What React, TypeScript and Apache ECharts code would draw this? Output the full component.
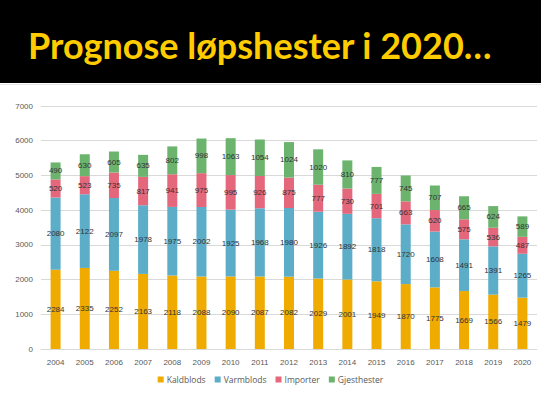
import React, { useEffect, useRef } from "react";
import * as echarts from "echarts";

const years = ["2004","2005","2006","2007","2008","2009","2010","2011","2012","2013","2014","2015","2016","2017","2018","2019","2020"];
const kaldblods = [2284, 2335, 2252, 2163, 2118, 2088, 2090, 2087, 2082, 2029, 2001, 1949, 1870, 1775, 1669, 1566, 1479];
const varmblods = [2080, 2122, 2097, 1978, 1975, 2002, 1925, 1968, 1980, 1926, 1892, 1818, 1720, 1608, 1491, 1391, 1265];
const importer = [520, 523, 735, 817, 941, 975, 995, 926, 875, 777, 730, 701, 663, 620, 575, 536, 487];
const gjesthester = [490, 630, 605, 635, 802, 998, 1063, 1054, 1024, 1020, 810, 777, 745, 707, 665, 624, 589];
const seriesNames = ["Kaldblods", "Varmblods", "Importer", "Gjesthester"];
const colors = ["#F0AB00", "#5BADC8", "#E5677C", "#6CB46E"];

export default function App() {
  const ref = useRef<HTMLDivElement>(null);
  useEffect(() => {
    if (!ref.current) return;
    const chart = echarts.init(ref.current, undefined, { renderer: "svg" });
    const data = [kaldblods, varmblods, importer, gjesthester];
    chart.setOption({
      animation: false,
      backgroundColor: "#ffffff",
      graphic: [
        { type: "rect", left: 0, top: 0, shape: { width: 541, height: 83 }, style: { fill: "#000000" }, z: -1 },
        { type: "rect", left: 0, top: 84, shape: { width: 541, height: 1 }, style: { fill: "#e6e6e6" }, z: -1 },
      ],
      title: {
        text: "Prognose løpshester i 2020…",
        left: 23,
        top: 22,
        textStyle: { color: "#FFCC00", fontFamily: "Lato", fontWeight: "bold", fontSize: 36 },
      },
      legend: {
        data: seriesNames,
        bottom: 8,
        left: "center",
        itemWidth: 6,
        itemHeight: 6,
        itemGap: 9,
        icon: "rect",
        textStyle: { color: "#595959", fontSize: 8.5, fontFamily: "Open Sans", padding: [0, 0, 0, -2] },
      },
      grid: { left: 41, right: 4, top: 106, bottom: 48 },
      xAxis: {
        type: "category",
        data: years,
        axisLine: { lineStyle: { color: "#d9d9d9" } },
        axisTick: { show: false },
        axisLabel: { color: "#595959", fontSize: 8, margin: 9 },
      },
      yAxis: {
        type: "value",
        min: 0,
        max: 7000,
        interval: 1000,
        axisLabel: { color: "#595959", fontSize: 8, margin: 8, formatter: (v: number) => String(v) },
        splitLine: { lineStyle: { color: "#d9d9d9" } },
      },
      series: seriesNames.map((name, i) => ({
        name,
        type: "bar",
        stack: "total",
        barWidth: 10,
        data: data[i],
        itemStyle: { color: colors[i] },
        label: {
          show: true,
          position: "inside",
          color: "#333333",
          fontSize: 8,
        },
      })),
    });
    return () => chart.dispose();
  }, []);
  return <div ref={ref} style={{ position: "fixed", left: 0, top: 0, width: 541, height: 397 }} />;
}
